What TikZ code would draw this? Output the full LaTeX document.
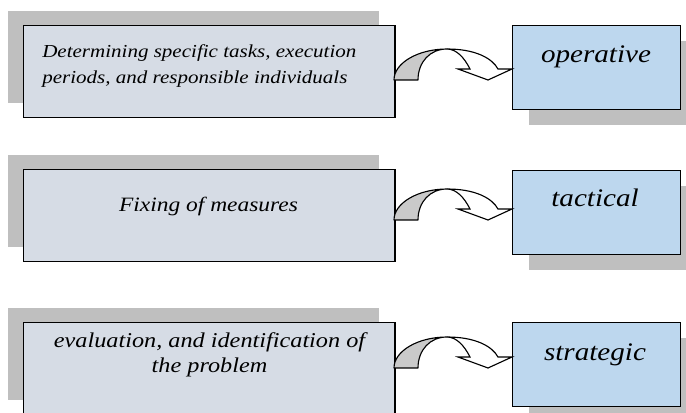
\documentclass[tikz,border=0pt]{standalone}
\usepackage{fontspec}
\setmainfont{Liberation Serif}[FakeStretch=1.15]
\usetikzlibrary{shadows}
\definecolor{graybox}{HTML}{D6DCE5}
\definecolor{bluebox}{HTML}{BDD7EE}
\definecolor{shade}{HTML}{BFBFBF}
\definecolor{bandgray}{HTML}{CACACA}

\begin{document}
\begin{tikzpicture}[x=0.025cm,y=-0.025cm,
  lb/.style={draw,line width=1pt,fill=graybox,minimum width=9.275cm,minimum height=2.3cm,
    anchor=north west,inner sep=0pt,
    drop shadow={shadow xshift=-0.4cm,shadow yshift=0.375cm,fill=shade,opacity=1}},
  rb/.style={draw,line width=1pt,fill=bluebox,minimum width=4.2cm,minimum height=2.1cm,
    anchor=north west,inner sep=0pt,
    drop shadow={shadow xshift=0.4cm,shadow yshift=-0.375cm,fill=shade,opacity=1}},
  lt/.style={inner sep=0pt,font=\itshape},
  rt/.style={anchor=base,inner sep=0pt,font=\fontsize{18}{21}\selectfont\itshape},
  back/.style={draw,line width=0.8pt,fill=bandgray,line join=round},
  front/.style={draw,line width=0.8pt,fill=white,line join=miter}]
\useasboundingbox (0,0) rectangle (686,413);
\clip (0,0) rectangle (686,413);
% levels
\node[lb] (l1) at (23,25) {};
\node[lb] (l2) at (23,169) {};
\node[lb] (l3) at (23,322) {};
\node[rb] (r1) at (512,25) {};
\node[rb] (r2) at (512,170) {};
\node[rb] (r3) at (512,322) {};
\node[lt,anchor=west,align=left,font=\fontsize{13}{17.8}\selectfont\itshape] (t1) at (42,66)
  {Determining specific tasks, execution\\periods, and responsible individuals};
\node[lt,anchor=base,font=\fontsize{14.5}{17}\selectfont\itshape] (t2) at (208.5,212) {Fixing of measures};
\node[lt,align=center,font=\fontsize{15}{17.8}\selectfont\itshape] (t3) at (209.5,354.5)
  {evaluation, and identification of\\the problem};
\node[rt] (u1) at (596,63) {operative};
\node[rt] (u2) at (595,207) {tactical};
\node[rt] (u3) at (595,361) {strategic};
% curved arrows between the columns
\foreach \dy in {0,140,288}{
  \begin{scope}[shift={(0,\dy)}]
    \draw[back] (394,80) .. controls (394,63) and (418,49) .. (447,49)
      .. controls (430,49) and (418,62) .. (418,80) -- cycle;
    \draw[front] (447,49) .. controls (475,49) and (492,58) .. (498,69) -- (512,69) -- (488,80)
      -- (458,69) -- (470,69) .. controls (464,57) and (456,49) .. (447,49) -- cycle;
  \end{scope}
}
\end{tikzpicture}
\end{document}
